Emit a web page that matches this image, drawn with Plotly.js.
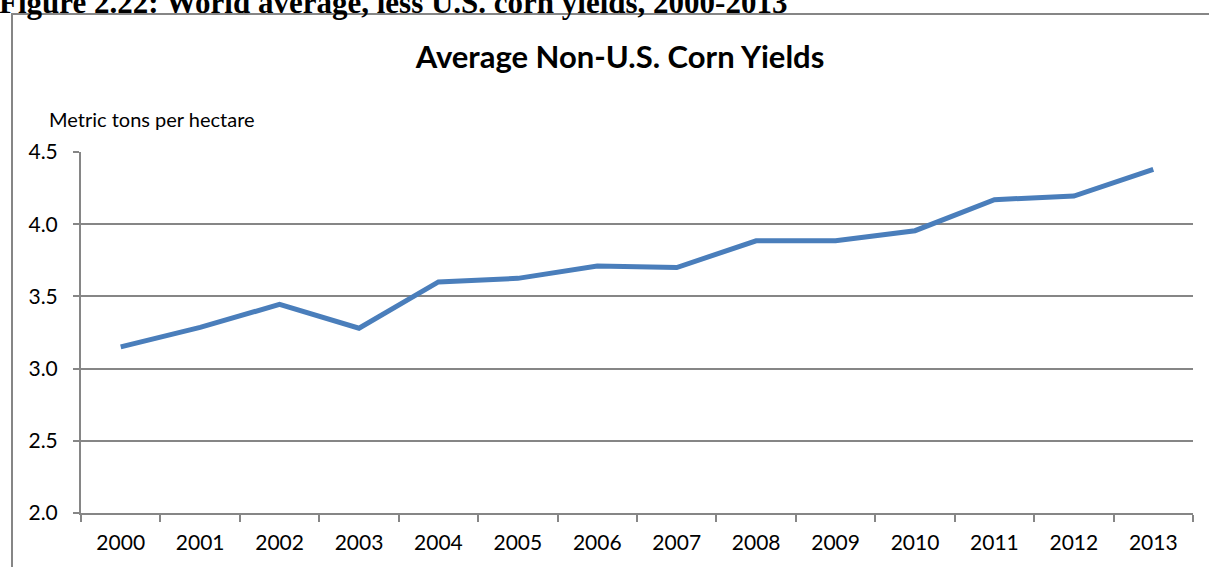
<!DOCTYPE html>
<html>
<head>
<meta charset="utf-8">
<script src="https://cdn.plot.ly/plotly-3.0.1.min.js"></script>
<style>
  html, body { margin: 0; padding: 0; background: #ffffff; overflow: hidden; }
  #chart { width: 1209px; height: 567px; }
</style>
</head>
<body>
<div id="chart"></div>
<script>
// ---- data ----
const years = ["2000","2001","2002","2003","2004","2005","2006","2007","2008","2009","2010","2011","2012","2013"];
const yields = [3.15, 3.285, 3.445, 3.28, 3.60, 3.625, 3.71, 3.70, 3.885, 3.885, 3.955, 4.17, 4.195, 4.38];
const yTickVals = [2.0, 2.5, 3.0, 3.5, 4.0, 4.5];
const figureTitle = "Figure 2.22: World average, less U.S. corn yields, 2000-2013";
const chartTitle = "Average Non-U.S. Corn Yields";
const yUnitLabel = "Metric tons per hectare";

// ---- layout geometry (pixels) ----
const W = 1209, H = 567;
const plotL = 81, plotR = 1193, plotT = 152, plotB = 513;
const px = X => (X - plotL) / (plotR - plotL);
const py = Y => (plotB - Y) / (plotB - plotT);

const grey = "#868686";
const bodyFont = "Lato, Carlito, Calibri, 'Open Sans', sans-serif";

const trace = {
  type: "scatter",
  mode: "lines",
  x: years,
  y: yields,
  line: { color: "#4a7ebb", width: 5 },
  hoverinfo: "x+y"
};

const layout = {
  width: W,
  height: H,
  margin: { l: plotL, r: W - plotR, t: plotT, b: H - plotB, pad: 0 },
  paper_bgcolor: "#ffffff",
  plot_bgcolor: "#ffffff",
  showlegend: false,
  font: { family: bodyFont, color: "#000000" },
  title: {
    text: "<b>" + chartTitle + "</b>",
    font: { family: bodyFont, size: 31, color: "#000000" },
    xref: "paper", x: px(620), xanchor: "center",
    yref: "container", y: 1 - 57 / H, yanchor: "middle"
  },
  xaxis: {
    type: "category",
    range: [-0.5, years.length - 0.5],
    tickson: "boundaries",
    ticks: "outside",
    ticklen: 7,
    tickwidth: 2,
    tickcolor: grey,
    showline: true,
    linecolor: grey,
    linewidth: 2,
    showgrid: false,
    zeroline: false,
    tickfont: { family: bodyFont, size: 21, color: "#000000" },
    ticklabelstandoff: 10,
    fixedrange: true
  },
  yaxis: {
    range: [2.0, 4.5],
    tickvals: yTickVals,
    tickformat: ".1f",
    ticks: "outside",
    ticklen: 6,
    tickwidth: 2,
    tickcolor: grey,
    showline: true,
    linecolor: grey,
    linewidth: 2,
    showgrid: true,
    gridcolor: grey,
    gridwidth: 2,
    zeroline: false,
    tickfont: { family: bodyFont, size: 21, color: "#000000" },
    ticklabelstandoff: 11,
    fixedrange: true
  },
  shapes: [
    {
      type: "rect", xref: "paper", yref: "paper",
      x0: px(12), x1: px(W + 20), y0: py(H + 20), y1: py(14),
      line: { color: grey, width: 2 },
      fillcolor: "rgba(0,0,0,0)",
      layer: "below"
    }
  ],
  annotations: [
    {
      text: "<b>" + figureTitle + "</b>",
      xref: "paper", yref: "paper",
      x: px(-3), xanchor: "left",
      y: py(2), yanchor: "middle",
      showarrow: false,
      font: { family: "'Liberation Serif', 'Times New Roman', serif", size: 31, color: "#000000" }
    },
    {
      text: yUnitLabel,
      xref: "paper", yref: "paper",
      x: px(47), xanchor: "left",
      y: py(119), yanchor: "middle",
      showarrow: false,
      font: { family: bodyFont, size: 20, color: "#000000" }
    }
  ]
};

Plotly.newPlot("chart", [trace], layout, { displayModeBar: false, staticPlot: true });
</script>
</body>
</html>
